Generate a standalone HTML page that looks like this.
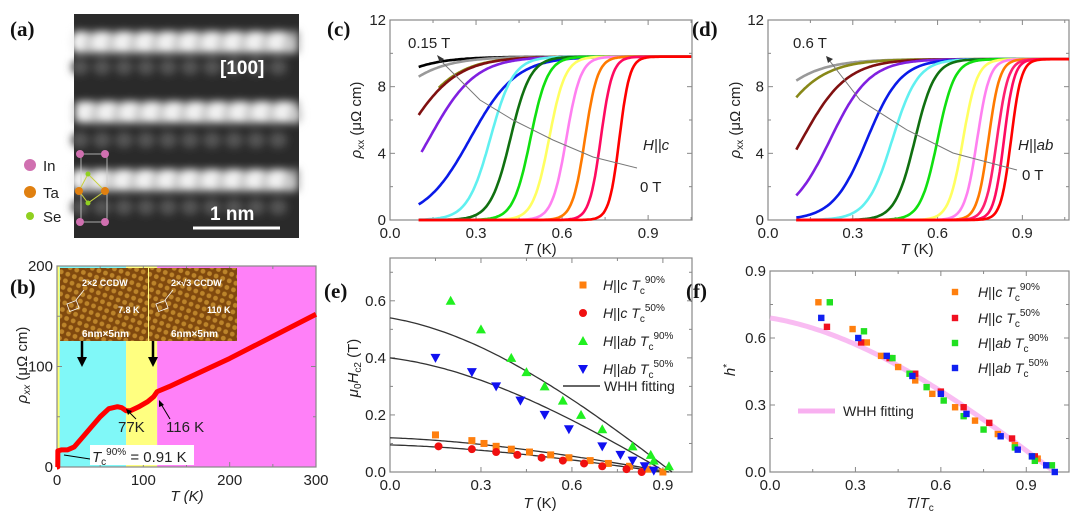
<!DOCTYPE html>
<html><head><meta charset="utf-8"><style>
body{margin:0;background:#fff;}
svg{display:block;font-family:"Liberation Sans",sans-serif;}
.t{font-size:15px;fill:#222}
.pl{font-family:"Liberation Serif",serif;font-weight:bold;font-size:21px;fill:#111}
.lg{font-size:14px;fill:#222}
</style></head><body>
<svg id="fig" width="1080" height="523" viewBox="0 0 1080 523" xmlns="http://www.w3.org/2000/svg">
<defs>
<filter id="bl" x="-20%" y="-20%" width="140%" height="140%"><feGaussianBlur stdDeviation="4"/></filter>
<pattern id="stm" width="7" height="7" patternUnits="userSpaceOnUse" patternTransform="rotate(20)">
<rect width="7" height="7" fill="#8a4f12"/><circle cx="3.5" cy="3.5" r="2.4" fill="#e0a43a"/></pattern>
</defs>
<!-- panel a -->
<g>
<rect x="74" y="14" width="225" height="224" fill="#2a2a2a"/>
<g id="stemrows" filter="url(#bl)"></g>
<text x="220" y="74" font-size="19" fill="#fff" font-weight="bold">[100]</text>
<line x1="193" y1="228" x2="280" y2="228" stroke="#fff" stroke-width="3"/>
<text x="210" y="220" font-size="19" fill="#fff" font-weight="bold">1 nm</text>
<rect x="81" y="154" width="26" height="68" fill="none" stroke="#ccc" stroke-width="0.8"/>
<polyline points="88,174 79,191 88,203 105,191 88,174" fill="none" stroke="#c8d040" stroke-width="1"/>
<circle cx="80" cy="154" r="4" fill="#d070b0"/><circle cx="105" cy="154" r="4" fill="#d070b0"/>
<circle cx="80" cy="222" r="4" fill="#d070b0"/><circle cx="105" cy="222" r="4" fill="#d070b0"/>
<circle cx="79" cy="191" r="4" fill="#e08010"/><circle cx="105" cy="191" r="4" fill="#e08010"/>
<circle cx="88" cy="174" r="2.5" fill="#90d020"/><circle cx="88" cy="203" r="2.5" fill="#90d020"/>
</g>
<g>
<circle cx="30" cy="165" r="6" fill="#d070b0"/><text x="43" y="171" class="t">In</text>
<circle cx="30" cy="192" r="6" fill="#e08010"/><text x="43" y="198" class="t">Ta</text>
<circle cx="30" cy="216" r="4" fill="#90d020"/><text x="43" y="222" class="t">Se</text>
</g>
<text class="pl" x="10" y="36">(a)</text>
<text class="pl" x="327" y="36">(c)</text>
<text class="pl" x="692" y="36">(d)</text>
<text class="pl" x="10" y="294">(b)</text>
<text class="pl" x="324" y="298">(e)</text>
<text class="pl" x="686" y="298">(f)</text>
<g id="root"></g>
</svg>
<script>
// ---- data ----
const cFields=['0.15','','','','','','','','','','','','','0'];
const cColors=['#000','#999','#888818','#801010','#8020e0','#0a1ae8','#60f0f0','#107010','#10e010','#ffff60','#ff80f0','#ff7a00','#ff0a60','#ff0000'];
const cMid=[-0.17,-0.097,0.04,0.047,0.137,0.28,0.35,0.42,0.49,0.555,0.615,0.68,0.735,0.80];
const cWid=[0.1,0.1,0.09,0.09,0.08,0.08,0.04,0.035,0.03,0.028,0.025,0.022,0.02,0.018];
const cStart=[0.1,0.1,0.17,0.1,0.11,0.1,0.1,0.1,0.1,0.1,0.1,0.1,0.1,0.1];
const cSat=9.8;
const dColors=['#999','#888818','#801010','#8020e0','#0a1ae8','#60f0f0','#107010','#10e010','#ffff60','#ff80f0','#ff7a00','#ff2070','#ff0a60','#ff0000'];
const dMid=[-0.087,-0.005,0.12,0.22,0.35,0.44,0.52,0.6,0.69,0.74,0.78,0.81,0.835,0.86];
const dWid=[0.1,0.09,0.08,0.07,0.06,0.045,0.035,0.03,0.025,0.022,0.02,0.02,0.018,0.018];
const dSat=9.65;
const bT=[0,0.9,1,5,12,20,30,40,50,60,70,75,80,85,95,105,112,116,130,150,200,250,300];
const bRho=[0,0,16,17,17,20,30,40,50,58,60,59,56,56,60,65,70,75,80,88,108,130,152];
const eOT=[0.15,0.27,0.31,0.35,0.4,0.46,0.53,0.59,0.66,0.72,0.79,0.85,0.9];
const eOV=[0.13,0.11,0.10,0.09,0.08,0.07,0.06,0.05,0.04,0.03,0.02,0.01,0.0];
const eRT=[0.16,0.27,0.35,0.42,0.5,0.57,0.64,0.7,0.78,0.83];
const eRV=[0.09,0.08,0.07,0.06,0.05,0.04,0.03,0.02,0.01,0.0];
const eGT=[0.2,0.3,0.4,0.45,0.51,0.57,0.63,0.7,0.8,0.86,0.87,0.92];
const eGV=[0.6,0.5,0.4,0.35,0.3,0.25,0.2,0.15,0.09,0.06,0.04,0.02];
const eBT=[0.15,0.27,0.35,0.43,0.51,0.59,0.7,0.76,0.8,0.84,0.87];
const eBV=[0.4,0.35,0.3,0.25,0.2,0.15,0.09,0.06,0.04,0.02,0.005];
const fitH0=[0.54,0.40,0.12,0.095];
const fitTc=[0.93,0.91,0.92,0.9];
const fOT=[0.17,0.29,0.34,0.39,0.45,0.51,0.57,0.65,0.72,0.8,0.86,0.94];
const fOV=[0.76,0.64,0.58,0.52,0.47,0.41,0.35,0.29,0.23,0.17,0.12,0.06];
const fRT=[0.2,0.32,0.42,0.51,0.6,0.68,0.77,0.85,0.93];
const fRV=[0.65,0.58,0.51,0.44,0.36,0.29,0.22,0.15,0.07];
const fGT=[0.21,0.33,0.43,0.49,0.55,0.61,0.68,0.75,0.86,0.92,0.93,0.99];
const fGV=[0.76,0.63,0.51,0.44,0.38,0.32,0.25,0.19,0.11,0.07,0.05,0.03];
const fBT=[0.18,0.31,0.41,0.5,0.6,0.69,0.81,0.87,0.92,0.97,1.0];
const fBV=[0.69,0.6,0.52,0.43,0.35,0.26,0.16,0.1,0.07,0.03,0.0];
const fFitH0=0.69;

const NS='http://www.w3.org/2000/svg';
const root=document.getElementById('root');
function el(tag,attrs,parent,txt){const e=document.createElementNS(NS,tag);for(const k in attrs)e.setAttribute(k,attrs[k]);if(txt!==undefined)e.textContent=txt;(parent||root).appendChild(e);return e;}
function whh(t){return t>=1?0:(1-t*t)*(1-0.3*t);}

// STEM rows
const sr=document.getElementById('stemrows');
[67,140,207].forEach(y=>{for(let x=80;x<300;x+=22){el('ellipse',{cx:x,cy:y,rx:9,ry:8,fill:'#555'},sr);}});
[42,112,180].forEach((y,r)=>{
  el('rect',{x:74,y:y-11,width:225,height:22,fill:'#999'},sr);
  for(let x=80+(r%2)*6;x<300;x+=22){el('ellipse',{cx:x,cy:y,rx:10,ry:11,fill:'#f2f2f2'},sr);el('ellipse',{cx:x+11,cy:y+3,rx:7,ry:9,fill:'#c8c8c8'},sr);}});

function axes(g,p){
  const sx=v=>p.L+(v-p.xmin)/(p.xmax-p.xmin)*(p.R-p.L);
  const sy=v=>p.B-(v-p.ymin)/(p.ymax-p.ymin)*(p.B-p.T);
  el('rect',{x:p.L,y:p.T,width:p.R-p.L,height:p.B-p.T,fill:'none',stroke:'#888','stroke-width':1.2},g);
  p.xt.forEach((v,i)=>{const x=sx(v);
    el('line',{x1:x,y1:p.B,x2:x,y2:p.B-5,stroke:'#888'},g);el('line',{x1:x,y1:p.T,x2:x,y2:p.T+5,stroke:'#888'},g);
    const t=el('text',{x:x,y:p.B+18,'text-anchor':'middle',class:'t'},g,p.xl[i]);
    
    });
  p.xm.forEach(v=>{const x=sx(v);el('line',{x1:x,y1:p.B,x2:x,y2:p.B-3,stroke:'#888'},g);el('line',{x1:x,y1:p.T,x2:x,y2:p.T+3,stroke:'#888'},g);});
  p.yt.forEach((v,i)=>{const y=sy(v);
    el('line',{x1:p.L,y1:y,x2:p.L+5,y2:y,stroke:'#888'},g);el('line',{x1:p.R,y1:y,x2:p.R-5,y2:y,stroke:'#888'},g);
    const t=el('text',{x:p.L-4,y:y+5,'text-anchor':'end',class:'t'},g,p.yl[i]);
    
    });
  p.ym.forEach(v=>{const y=sy(v);el('line',{x1:p.L,y1:y,x2:p.L+3,y2:y,stroke:'#888'},g);el('line',{x1:p.R,y1:y,x2:p.R-3,y2:y,stroke:'#888'},g);});
  return [sx,sy];
}
function grp(name){const g=el('g',{});return g;}
function sig(T,m,w,s){return s/(1+Math.exp(-(T-m)/w));}

// ---- panel b ----
(function(){
 const g=grp('panel-b-resistivity');
 const P={L:57,R:316,T:266,B:467,xmin:0,xmax:300,ymin:0,ymax:200};
 const sx=v=>P.L+v/300*(P.R-P.L), sy=v=>P.B-v/200*(P.B-P.T);
 el('rect',{x:sx(0),y:P.T,width:sx(3)-sx(0),height:P.B-P.T,fill:'#ffff70'},g);
 el('rect',{x:sx(3),y:P.T,width:sx(80)-sx(3),height:P.B-P.T,fill:'#80f8f8'},g);
 el('rect',{x:sx(80),y:P.T,width:sx(116)-sx(80),height:P.B-P.T,fill:'#ffff80'},g);
 el('rect',{x:sx(116),y:P.T,width:P.R-sx(116),height:P.B-P.T,fill:'#ff80f8'},g);
 axes(g,Object.assign(P,{xt:[0,100,200,300],xl:['0','100','200','300'],xm:[50,150,250],yt:[0,100,200],yl:['0','100','200'],ym:[50,150]}));
 [[60,'2×2 CCDW','7.8 K'],[149,'2×√3 CCDW','110 K']].forEach(a=>{
  const ig=el('g',{},g);
  el('rect',{x:a[0],y:268,width:88,height:73,fill:'url(#stm)'},ig);
  el('rect',{x:a[0],y:268,width:88,height:73,fill:'#6a3a08',opacity:0.3},ig);
  el('text',{x:a[0]+22,y:286,'font-size':9,fill:'#fff','font-weight':'bold'},ig,a[1]);
  el('text',{x:a[0]+58,y:313,'font-size':9,fill:'#fff','font-weight':'bold'},ig,a[2]);
  el('text',{x:a[0]+22,y:337,'font-size':10,fill:'#fff','font-weight':'bold'},ig,'6nm×5nm');
  el('rect',{x:a[0]+8,y:302,width:10,height:8,fill:'none',stroke:'#fff','stroke-width':0.8,transform:`rotate(-20 ${a[0]+13} 306)`},ig);
  el('line',{x1:a[0]+24,y1:290,x2:a[0]+16,y2:300,stroke:'#fff','stroke-width':0.8},ig);
 });
 [82,153].forEach(x=>{el('line',{x1:x,y1:341,x2:x,y2:358,stroke:'#000','stroke-width':2.5},g);el('polygon',{points:`${x-5},357 ${x+5},357 ${x},367`,fill:'#000'},g);});
 const pts=bT.map((t,i)=>sx(t)+','+sy(bRho[i])).join(' ');
 const c=el('polyline',{points:pts,fill:'none',stroke:'#f00','stroke-width':5,'stroke-linejoin':'round'},g);
 
 
 el('line',{x1:136,y1:419,x2:129,y2:412,stroke:'#000'},g);el('polygon',{points:'126,409 132,411 128,415',fill:'#000'},g);
 el('line',{x1:170,y1:419,x2:161,y2:404,stroke:'#000'},g);el('polygon',{points:'159,400 164,405 159,407',fill:'#000'},g);
 el('text',{x:118,y:432,class:'t','font-size':16},g,'77K');
 el('text',{x:166,y:432,class:'t','font-size':16},g,'116 K');
 el('line',{x1:90,y1:459,x2:64,y2:455,stroke:'#000'},g);
 el('rect',{x:90,y:445,width:104,height:20,fill:'#fff'},g);
 const tl=el('text',{x:92,y:462,class:'t'},g);
 tl.innerHTML='<tspan font-style="italic">T</tspan><tspan font-size="10" dy="3">c</tspan><tspan font-size="10" dy="-10">90%</tspan><tspan dy="7"> = 0.91 K</tspan>';
 el('text',{x:187,y:501,'text-anchor':'middle',class:'t','font-style':'italic'},g,'T (K)');
 const yt=el('text',{x:0,y:0,class:'t',transform:'translate(27,365) rotate(-90)','text-anchor':'middle'},g);
 yt.innerHTML='<tspan font-style="italic">ρ</tspan><tspan font-size="10" dy="3" font-style="italic">xx</tspan><tspan dy="-3"> (μΩ cm)</tspan>';
})();

// ---- panels c & d ----
function rhoPanel(name,P,cols,mids,wids,starts,sat){
 const g=grp(name);
 const [sx,sy]=axes(g,P);
 cols.forEach((col,i)=>{let pts=[];for(let T=starts[i];T<=P.xmax+1e-9;T+=0.005)pts.push(sx(T).toFixed(1)+','+sy(sig(T,mids[i],wids[i],sat)).toFixed(1));
  const c=el('polyline',{points:pts.join(' '),fill:'none',stroke:col,'stroke-width':2.6},g);
  
  });
 return g;
}
(function(){
 const P={L:390,R:692,T:20,B:220,xmin:0,xmax:1.053,ymin:0,ymax:12,xt:[0,0.3,0.6,0.9],xl:['0.0','0.3','0.6','0.9'],xm:[0.15,0.45,0.75,1.05],yt:[0,4,8,12],yl:['0','4','8','12'],ym:[2,6,10]};
 const g=rhoPanel('panel-c-rho-H-parallel-c',P,cColors,cMid,cWid,cStart,cSat);
 el('polyline',{points:'442,62 480,100 513,120 553,140 593,157 637,168',fill:'none',stroke:'#777','stroke-width':1},g);
 el('polygon',{points:'437,55 444,59 440,63',fill:'#333'},g);
 el('text',{x:408,y:48,class:'t'},g,cFields[0]+' T');
 el('text',{x:643,y:150,class:'t','font-style':'italic'},g,'H||c');
 el('text',{x:640,y:192,class:'t'},g,'0 T');
 el('text',{x:540,y:254,'text-anchor':'middle',class:'t'},g).innerHTML='<tspan font-style="italic">T</tspan> (K)';
 el('text',{x:0,y:0,class:'t',transform:'translate(361,120) rotate(-90)','text-anchor':'middle'},g).innerHTML='<tspan font-style="italic">ρ</tspan><tspan font-size="10" dy="3">xx</tspan><tspan dy="-3"> (μΩ cm)</tspan>';
})();
(function(){
 const P={L:768,R:1069,T:20,B:220,xmin:0,xmax:1.065,ymin:0,ymax:12,xt:[0,0.3,0.6,0.9],xl:['0.0','0.3','0.6','0.9'],xm:[0.15,0.45,0.75,1.05],yt:[0,4,8,12],yl:['0','4','8','12'],ym:[2,6,10]};
 const st=dColors.map(()=>0.1);
 const g=rhoPanel('panel-d-rho-H-parallel-ab',P,dColors,dMid,dWid,st,dSat);
 el('polyline',{points:'829,60 860,100 907,130 953,153 1017,170',fill:'none',stroke:'#777','stroke-width':1},g);
 el('polygon',{points:'826,56 833,59 828,63',fill:'#333'},g);
 el('text',{x:793,y:48,class:'t'},g,'0.6 T');
 el('text',{x:1018,y:150,class:'t','font-style':'italic'},g,'H||ab');
 el('text',{x:1022,y:180,class:'t'},g,'0 T');
 el('text',{x:917,y:254,'text-anchor':'middle',class:'t'},g).innerHTML='<tspan font-style="italic">T</tspan> (K)';
 el('text',{x:0,y:0,class:'t',transform:'translate(740,120) rotate(-90)','text-anchor':'middle'},g).innerHTML='<tspan font-style="italic">ρ</tspan><tspan font-size="10" dy="3">xx</tspan><tspan dy="-3"> (μΩ cm)</tspan>';
})();

function marker(g,type,x,y,col,s){
 let m;
 if(type==='sq')m=el('rect',{x:x-s,y:y-s,width:2*s,height:2*s,fill:col},g);
 else if(type==='ci')m=el('circle',{cx:x,cy:y,r:s,fill:col},g);
 else if(type==='up')m=el('polygon',{points:`${x},${y-s-1} ${x-s-1},${y+s} ${x+s+1},${y+s}`,fill:col},g);
 else m=el('polygon',{points:`${x},${y+s+1} ${x-s-1},${y-s} ${x+s+1},${y-s}`,fill:col},g);
 
 
 return m;
}
function legendText(g,x,y,field,pct,gap){
 el('text',{x:x,y:y,class:'lg'},g).innerHTML=`<tspan font-style="italic">H</tspan>||<tspan font-style="italic">${field}</tspan>${gap}<tspan font-style="italic">T</tspan><tspan font-size="10" dy="4">c</tspan><tspan font-size="10" dy="-11">${pct}</tspan>`;
}

// ---- panel e ----
(function(){
 const g=grp('panel-e-Hc2');
 const P={L:390,R:692,T:258,B:472,xmin:0,xmax:0.996,ymin:0,ymax:0.75,xt:[0,0.3,0.6,0.9],xl:['0.0','0.3','0.6','0.9'],xm:[0.15,0.45,0.75],yt:[0,0.2,0.4,0.6],yl:['0.0','0.2','0.4','0.6'],ym:[0.1,0.3,0.5,0.7]};
 const [sx,sy]=axes(g,P);
 fitH0.forEach((h,i)=>{let pts=[];for(let T=0;T<=fitTc[i]+1e-9;T+=0.01){pts.push(sx(T).toFixed(1)+','+sy(h*whh(T/fitTc[i])).toFixed(1));}
  const c=el('polyline',{points:pts.join(' '),fill:'none',stroke:'#333','stroke-width':1.3},g);
  
  });
 eOT.forEach((t,i)=>marker(g,'sq',sx(t),sy(eOV[i]),'#ff7f0e',3.5));
 eRT.forEach((t,i)=>marker(g,'ci',sx(t),sy(eRV[i]),'#f01010',4));
 eGT.forEach((t,i)=>marker(g,'up',sx(t),sy(eGV[i]),'#20f020',4));
 eBT.forEach((t,i)=>marker(g,'dn',sx(t),sy(eBV[i]),'#1010f0',4));
 const lg=el('g',{},g);
 marker(lg,'sq',583,285,'#ff7f0e',3.5);legendText(lg,603,290,'c','90%',' ');
 marker(lg,'ci',583,313,'#f01010',4);legendText(lg,603,318,'c','50%',' ');
 marker(lg,'up',583,341,'#20f020',4);legendText(lg,603,346,'ab','90%',' ');
 marker(lg,'dn',583,369,'#1010f0',4);legendText(lg,603,374,'ab','50%',' ');
 el('line',{x1:563,y1:386,x2:600,y2:386,stroke:'#333','stroke-width':1.5},lg);
 el('text',{x:604,y:391,class:'lg'},lg,'WHH fitting');
 el('text',{x:540,y:508,'text-anchor':'middle',class:'t'},g).innerHTML='<tspan font-style="italic">T</tspan> (K)';
 el('text',{x:0,y:0,class:'t',transform:'translate(358,368) rotate(-90)','text-anchor':'middle'},g).innerHTML='<tspan font-style="italic">μ</tspan><tspan font-size="10" dy="3">0</tspan><tspan dy="-3" font-style="italic">H</tspan><tspan font-size="10" dy="3">c2</tspan><tspan dy="-3"> (T)</tspan>';
})();

// ---- panel f ----
(function(){
 const g=grp('panel-f-hstar');
 const P={L:770,R:1069,T:271,B:472,xmin:0,xmax:1.05,ymin:0,ymax:0.9,xt:[0,0.3,0.6,0.9],xl:['0.0','0.3','0.6','0.9'],xm:[0.15,0.45,0.75,1.05],yt:[0,0.3,0.6,0.9],yl:['0.0','0.3','0.6','0.9'],ym:[0.15,0.45,0.75]};
 const [sx,sy]=axes(g,P);
 let pts=[];for(let t=0;t<=1.0001;t+=0.01)pts.push(sx(t).toFixed(1)+','+sy(fFitH0*whh(t)).toFixed(1));
 const c=el('polyline',{points:pts.join(' '),fill:'none',stroke:'#f8b0f0','stroke-width':5,opacity:0.85},g);
 
 
 fOT.forEach((t,i)=>marker(g,'sq',sx(t),sy(fOV[i]),'#ff7f0e',3.2));
 fRT.forEach((t,i)=>marker(g,'sq',sx(t),sy(fRV[i]),'#f01020',3.2));
 fGT.forEach((t,i)=>marker(g,'sq',sx(t),sy(fGV[i]),'#20e020',3.2));
 fBT.forEach((t,i)=>marker(g,'sq',sx(t),sy(fBV[i]),'#1020f0',3.2));
 const lg=el('g',{},g);
 marker(lg,'sq',955,292,'#ff7f0e',3.2);legendText(lg,978,297,'c','90%','   ');
 marker(lg,'sq',955,318,'#f01020',3.2);legendText(lg,978,323,'c','50%','   ');
 marker(lg,'sq',955,343,'#20e020',3.2);legendText(lg,978,348,'ab','90%',' ');
 marker(lg,'sq',955,368,'#1020f0',3.2);legendText(lg,978,373,'ab','50%',' ');
 el('line',{x1:798,y1:411,x2:835,y2:411,stroke:'#f8b0f0','stroke-width':5},lg);
 el('text',{x:843,y:416,class:'lg'},lg,'WHH fitting');
 el('text',{x:920,y:508,'text-anchor':'middle',class:'t'},g).innerHTML='<tspan font-style="italic">T</tspan>/<tspan font-style="italic">T</tspan><tspan font-size="10" dy="3">c</tspan>';
 el('text',{x:0,y:0,class:'t',transform:'translate(735,370) rotate(-90)','text-anchor':'middle'},g).innerHTML='<tspan font-style="italic">h</tspan><tspan font-size="10" dy="-5">*</tspan>';
})();
</script>
</body></html>
